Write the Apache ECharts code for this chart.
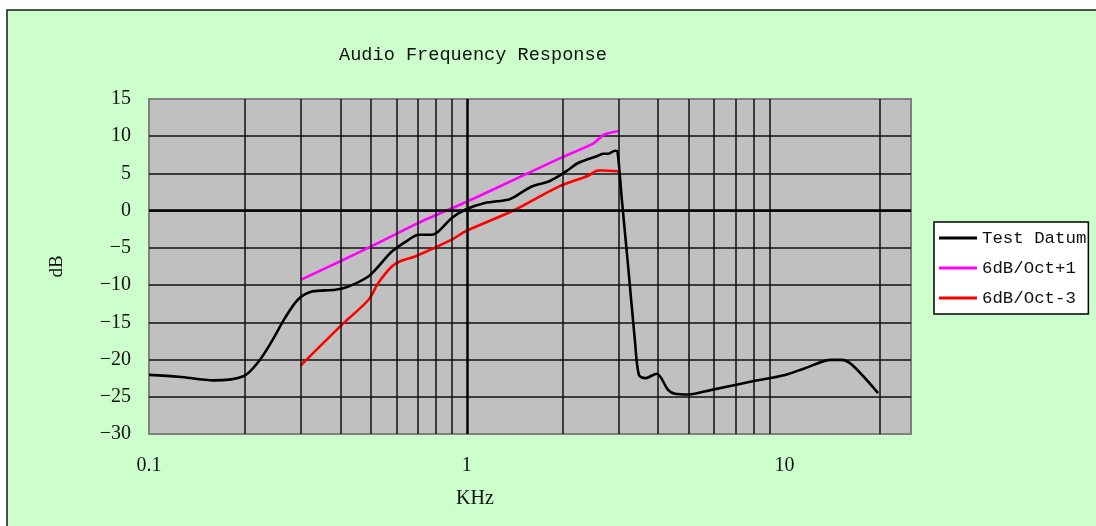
<!DOCTYPE html>
<html>
<head>
<meta charset="utf-8">
<script src="https://cdn.jsdelivr.net/npm/echarts@6/dist/echarts.min.js"></script>
<style>
html,body{margin:0;padding:0;background:#fff;}
#c{width:1096px;height:526px;}
</style>
</head>
<body>
<div id="c"></div>
<script>
// ---- data ----
var titleText = 'Audio Frequency Response';
var xName = 'KHz';
var yName = 'dB';
var seriesNames = ['Test Datum', '6dB/Oct+1', '6dB/Oct-3'];
var xTickLabels = [0.1, 1, 10];
var minorGridFreqs = [0.2, 0.3, 0.4, 0.5, 0.6, 0.7, 0.8, 0.9, 2, 3, 4, 5, 6, 7, 8, 9, 20];

var datumFreq = [0.1, 0.124, 0.16, 0.199, 0.221, 0.243, 0.268, 0.295, 0.326, 0.386, 0.424, 0.49, 0.527, 0.581, 0.656, 0.705, 0.776, 0.814, 0.897, 0.988, 1.14, 1.35, 1.42, 1.6, 1.81, 1.94, 2.09, 2.24, 2.59, 2.69, 2.79, 2.93, 2.98, 3.07, 3.22, 3.38, 3.48, 3.64, 3.96, 4.3, 4.52, 4.97, 5.89, 7.87, 10.05, 11.6, 14.0, 15.1, 16.3, 19.7];
var datumDb   = [-22.06, -22.3, -22.8, -22.2, -20.3, -17.6, -14.4, -11.9, -10.86, -10.63, -10.2, -8.84, -7.5, -5.48, -3.91, -3.24, -3.24, -2.8, -1.0, 0.12, 1.02, 1.47, 1.9, 3.25, 3.92, 4.6, 5.5, 6.4, 7.38, 7.65, 7.65, 8.05, 7.96, 1.9, -7.5, -17.35, -22.06, -22.5, -21.9, -24.07, -24.6, -24.7, -24.07, -22.95, -22.06, -21.16, -20.04, -20.04, -20.7, -24.5];

var plusFreq = [0.3, 0.4, 0.5, 0.7, 1, 1.5, 2, 2.5, 2.7, 3];
var plusDb   = [-9.3, -6.8, -4.8, -1.7, 1.2, 4.7, 7.2, 9.0, 10.2, 10.7];

var minusFreq = [0.3, 0.405, 0.49, 0.527, 0.581, 0.625, 0.688, 0.897, 0.988, 1.42, 1.94, 2.41, 2.59, 2.69, 3];
var minusDb   = [-20.8, -15.3, -12.0, -9.7, -7.5, -6.7, -6.15, -3.9, -2.8, 0.12, 3.2, 4.7, 5.4, 5.4, 5.3];

function pairs(xs, ys){ return xs.map(function(x,i){ return [x, ys[i]]; }); }

var chart = echarts.init(document.getElementById('c'), null, {renderer:'canvas'});
var serif = '"Liberation Serif", "DejaVu Serif", serif';
var mono = '"Liberation Mono", "DejaVu Sans Mono", monospace';

var option = {
  animation: false,
  backgroundColor: '#ffffff',
  graphic: [{
    type: 'rect', z: -10, silent: true,
    shape: {x: 7, y: 10, width: 1200, height: 600},
    style: {fill: '#CCFFCC', stroke: '#1a1a1a', lineWidth: 1.5}
  }],
  title: {
    text: titleText, left: 334, top: 41,
    textStyle: {fontFamily: mono, fontSize: 18.6, fontWeight: 'normal', color: '#111'}
  },
  legend: {
    orient: 'vertical', left: 934, top: 222,
    backgroundColor: '#ffffff', borderColor: '#000', borderWidth: 1.5,
    padding: [6, 2, 6, 5], itemGap: 10, itemWidth: 38, itemHeight: 3,
    icon: 'rect',
    textStyle: {fontFamily: mono, fontSize: 17.4, lineHeight: 20, color: '#111'},
    data: seriesNames
  },
  grid: {
    left: 149, top: 99, right: 185, bottom: 92,
    show: true, backgroundColor: '#C0C0C0', borderColor: '#808080', borderWidth: 2
  },
  xAxis: {
    type: 'log', logBase: 10, min: 0.1, max: 25,
    name: xName, nameLocation: 'middle', nameGap: 55,
    nameTextStyle: {fontFamily: serif, fontSize: 20, color: '#111', padding: [0, 110, 0, 0]},
    axisLine: {show: false}, axisTick: {show: false},
    splitLine: {show: false},
    axisLabel: {
      margin: 22, fontFamily: serif, fontSize: 20, color: '#111', showMaxLabel: false,
      formatter: function(v){
        for (var i = 0; i < xTickLabels.length; i++) {
          if (Math.abs(v - xTickLabels[i]) < 1e-6 * xTickLabels[i]) return String(xTickLabels[i]);
        }
        return '';
      }
    }
  },
  yAxis: {
    type: 'value', min: -30, max: 15, interval: 5,
    name: yName, nameLocation: 'middle', nameGap: 82, nameRotate: 90,
    nameTextStyle: {fontFamily: serif, fontSize: 19, color: '#111'},
    axisLine: {show: false}, axisTick: {show: false},
    splitLine: {show: true, showMinLine: false, showMaxLine: false, lineStyle: {color: '#111', width: 1.5}},
    axisLabel: {
      margin: 18, fontFamily: serif, fontSize: 20, color: '#111',
      formatter: function(v){ return String(v).replace('-', '\u2212'); }
    }
  },
  series: [
    {
      type: 'line', data: [], z: 1, silent: true,
      markLine: {
        silent: true, symbol: ['none', 'none'], label: {show: false},
        lineStyle: {color: '#111', width: 1.5, type: 'solid'},
        data: minorGridFreqs.map(function(f){ return {xAxis: f}; }).concat([
          {xAxis: 1, lineStyle: {color: '#000', width: 2.5, type: 'solid'}},
          {yAxis: 0, lineStyle: {color: '#000', width: 2.5, type: 'solid'}}
        ])
      }
    },
    {
      name: seriesNames[0], type: 'line', data: pairs(datumFreq, datumDb), z: 5,
      showSymbol: false, smooth: 0.3, color: '#000',
      lineStyle: {color: '#000', width: 2.6}
    },
    {
      name: seriesNames[1], type: 'line', data: pairs(plusFreq, plusDb), z: 4,
      showSymbol: false, smooth: 0.2, color: '#FF00FF',
      lineStyle: {color: '#FF00FF', width: 2.6}
    },
    {
      name: seriesNames[2], type: 'line', data: pairs(minusFreq, minusDb), z: 4,
      showSymbol: false, smooth: 0.3, color: '#FF0000',
      lineStyle: {color: '#FF0000', width: 2.6}
    }
  ]
};
chart.setOption(option);
</script>
</body>
</html>
